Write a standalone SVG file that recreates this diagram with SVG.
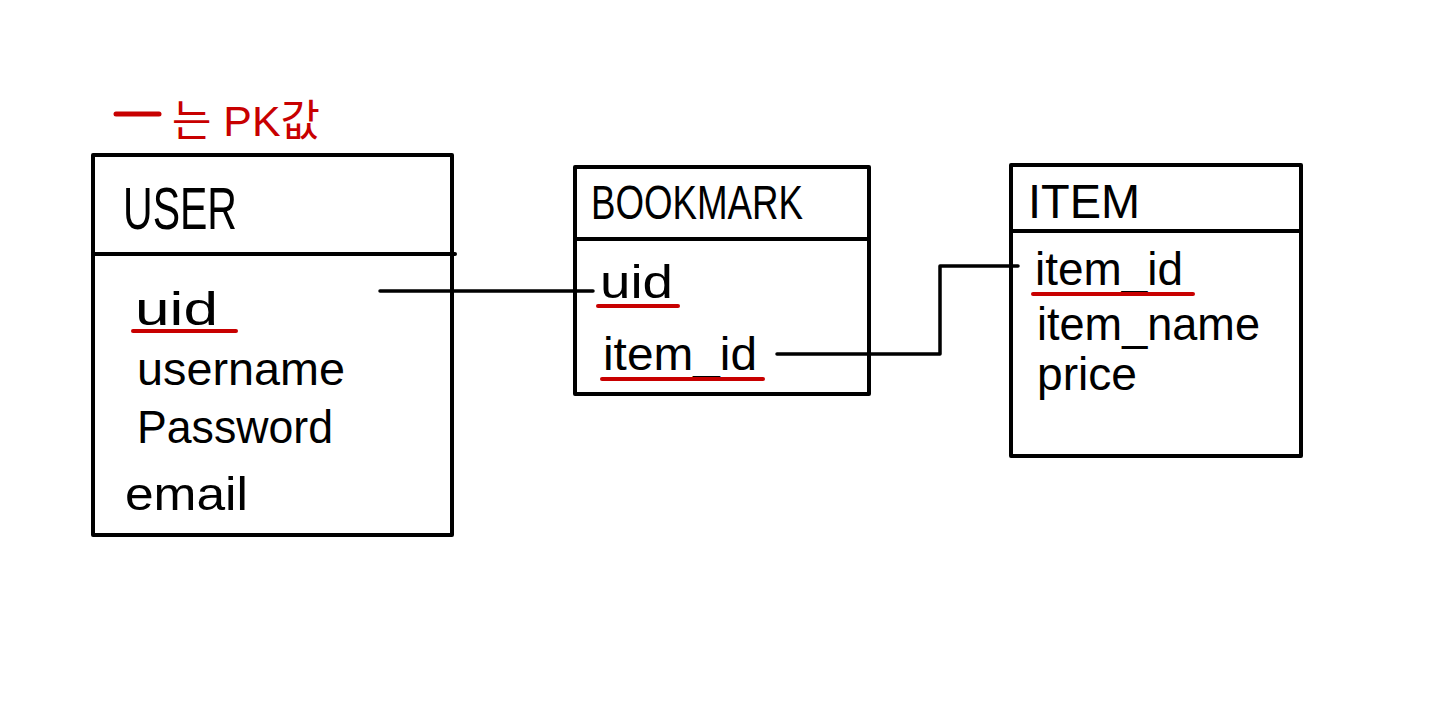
<svg xmlns="http://www.w3.org/2000/svg" width="1440" height="702" viewBox="0 0 1440 702">
<style>
.box{fill:none;stroke:#000;stroke-width:4;stroke-linejoin:round;stroke-linecap:round}
.div{stroke:#000;stroke-width:4;stroke-linecap:round}
.pk{stroke:#c80000;stroke-width:4;stroke-linecap:round}
.conn{fill:none;stroke:#000;stroke-width:3.5;stroke-linecap:round;stroke-linejoin:round}
.h{font-family:"Liberation Sans",sans-serif;fill:#000}
.f{font-family:"Liberation Sans",sans-serif;font-size:46px;fill:#000}
.lg{font-family:"Liberation Sans","Noto Sans CJK KR",sans-serif;font-size:43px;fill:#c80000}
</style>
<rect width="1440" height="702" fill="#fff"/>
<g id="legend">
<line class="pk" x1="116" y1="114" x2="159" y2="114" style="stroke-width:5"/>
<text class="lg" x="172" y="136" textLength="148" lengthAdjust="spacingAndGlyphs">는 PK값</text>
</g>
<g id="connectors">
<path class="conn" d="M380 291 H593"/>
<path class="conn" d="M777 354 H940 V266 H1018"/>
</g>
<g id="user">
<rect class="box" x="93" y="155" width="359" height="380"/>
<line class="div" x1="93" y1="254" x2="455" y2="254"/>
<text class="h" x="123" y="229" font-size="60" textLength="114" lengthAdjust="spacingAndGlyphs">USER</text>
<text class="f" x="135" y="325" textLength="83" lengthAdjust="spacingAndGlyphs">uid</text>
<line class="pk" x1="133" y1="331" x2="236" y2="331"/>
<text class="f" x="137" y="385" textLength="208" lengthAdjust="spacingAndGlyphs">username</text>
<text class="f" x="137" y="443" textLength="196" lengthAdjust="spacingAndGlyphs">Password</text>
<text class="f" x="125" y="510" textLength="123" lengthAdjust="spacingAndGlyphs">email</text>
</g>
<g id="bookmark">
<rect class="box" x="575" y="167" width="294" height="227"/>
<line class="div" x1="575" y1="239" x2="869" y2="239"/>
<text class="h" x="591" y="219" font-size="48" textLength="212" lengthAdjust="spacingAndGlyphs">BOOKMARK</text>
<text class="f" x="600" y="298" textLength="73" lengthAdjust="spacingAndGlyphs">uid</text>
<line class="pk" x1="598" y1="306" x2="678" y2="306"/>
<text class="f" x="603" y="370" textLength="154" lengthAdjust="spacingAndGlyphs">item_id</text>
<line class="pk" x1="602" y1="379" x2="763" y2="379"/>
</g>
<g id="item">
<rect class="box" x="1011" y="165" width="290" height="291"/>
<line class="div" x1="1011" y1="231" x2="1301" y2="231"/>
<text class="h" x="1028" y="218" font-size="48" textLength="112" lengthAdjust="spacingAndGlyphs">ITEM</text>
<text class="f" x="1035" y="285" textLength="148" lengthAdjust="spacingAndGlyphs">item_id</text>
<line class="pk" x1="1033" y1="294" x2="1193" y2="294"/>
<text class="f" x="1037" y="340" textLength="223" lengthAdjust="spacingAndGlyphs">item_name</text>
<text class="f" x="1037" y="390" textLength="100" lengthAdjust="spacingAndGlyphs">price</text>
</g>
</svg>
